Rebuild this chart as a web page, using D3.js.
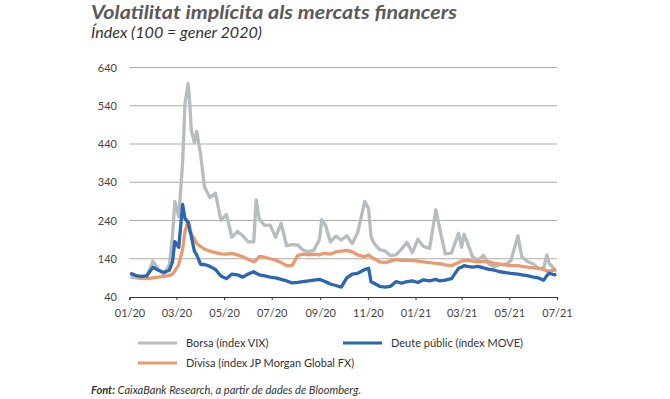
<!DOCTYPE html>
<html>
<head>
<meta charset="utf-8">
<script src="https://cdn.jsdelivr.net/npm/d3@7"></script>
<style>
  body { margin: 0; background: #fff; }
  svg { font-family: Lato, "Open Sans", sans-serif; }
</style>
</head>
<body>
<div id="chart"></div>
<script>
// dates of the observations
var dates = [
  "2020-01-02","2020-01-09","2020-01-16","2020-01-23","2020-01-31","2020-02-07","2020-02-14","2020-02-21","2020-02-25","2020-02-28",
  "2020-03-04","2020-03-09","2020-03-12","2020-03-16","2020-03-18","2020-03-20","2020-03-24","2020-03-27","2020-04-01","2020-04-06",
  "2020-04-13","2020-04-20","2020-04-27","2020-05-04","2020-05-11","2020-05-18","2020-05-25","2020-06-01","2020-06-08","2020-06-11",
  "2020-06-15","2020-06-22","2020-06-29","2020-07-06","2020-07-13","2020-07-20","2020-07-27","2020-08-03","2020-08-10","2020-08-17",
  "2020-08-24","2020-08-31","2020-09-03","2020-09-08","2020-09-14","2020-09-21","2020-09-28","2020-10-05","2020-10-12","2020-10-19",
  "2020-10-28","2020-11-02","2020-11-05","2020-11-09","2020-11-16","2020-11-23","2020-11-30","2020-12-07","2020-12-14","2020-12-21",
  "2020-12-28","2021-01-04","2021-01-11","2021-01-19","2021-01-27","2021-02-01","2021-02-08","2021-02-16","2021-02-25","2021-03-01",
  "2021-03-04","2021-03-08","2021-03-15","2021-03-22","2021-03-29","2021-04-05","2021-04-12","2021-04-19","2021-04-26","2021-05-03",
  "2021-05-12","2021-05-17","2021-05-24","2021-06-01","2021-06-07","2021-06-14","2021-06-18","2021-06-21","2021-06-28","2021-06-30"
];

// Borsa (VIX)
var borsa = [
  92, 90, 88, 94, 134, 112, 99, 124, 198, 290,
  250, 393, 545, 598, 550, 477, 444, 473, 412, 327,
  300, 311, 240, 256, 196, 211, 200, 184, 184, 294,
  244, 227, 228, 196, 233, 174, 177, 176, 163, 158,
  163, 190, 242, 227, 184, 199, 189, 200, 180, 209,
  290, 270, 198, 180, 164, 160, 148, 150, 165, 183,
  156, 191, 172, 167, 268, 218, 153, 155, 207, 170,
  204, 184, 145, 136, 149, 126, 119, 125, 125, 135,
  200, 145, 133, 126, 115, 116, 150, 128, 112, 113
];

// Deute public (MOVE)
var deute = [
  102, 96, 94, 95, 118, 110, 104, 110, 132, 185,
  170, 282, 245, 235, 215, 200, 160, 150, 125, 125,
  120, 112, 95, 88, 100, 98, 92, 100, 106, 102,
  98, 95, 92, 90, 86, 82, 77, 78, 80, 82,
  84, 86, 84, 80, 74, 70, 66, 90, 100, 102,
  112, 115, 80, 76, 68, 66, 68, 80, 76, 80,
  82, 78, 85, 82, 86, 82, 84, 88, 115, 118,
  122, 120, 118, 120, 116, 112, 110, 106, 104, 102,
  100, 98, 96, 92, 90, 84, 96, 102, 98, 100
];

// Divisa (JP Morgan Global FX)
var divisa = [
  102, 96, 90, 88, 90, 92, 94, 96, 100, 108,
  125, 165, 212, 238, 225, 205, 192, 180, 172, 165,
  160, 156, 153, 152, 154, 150, 145, 138, 132, 136,
  146, 144, 140, 136, 130, 122, 122, 148, 152, 150,
  152, 150, 153, 154, 152, 158, 160, 162, 158, 150,
  145, 150, 145, 140, 132, 130, 134, 138, 136, 136,
  135, 134, 132, 130, 128, 127, 124, 122, 130, 134,
  135, 136, 134, 132, 133, 132, 128, 126, 124, 122,
  122, 120, 118, 116, 115, 112, 108, 108, 110, 111
];

var yTicks = [40, 140, 240, 340, 440, 540, 640];
var xTicks = ["2020-01-01","2020-03-01","2020-05-01","2020-07-01","2020-09-01","2020-11-01",
              "2021-01-01","2021-03-01","2021-05-01","2021-07-01"];

var series = [
  {name: "Borsa (índex VIX)", values: borsa, color: "#b6bdc1"},
  {name: "Divisa (índex JP Morgan Global FX)", values: divisa, color: "#e99a6e"},
  {name: "Deute públic (índex MOVE)", values: deute, color: "#2b66b1"}
];

var W = 670, H = 399;
var parse = d3.timeParse("%Y-%m-%d");
var dts = dates.map(parse);

var svg = d3.select("#chart").append("svg")
  .attr("width", W).attr("height", H);

var x = d3.scaleTime()
  .domain([parse("2020-01-01"), parse("2021-07-01")])
  .range([129.5, 557]);
var y = d3.scaleLinear().domain([40, 640]).range([297, 67.5]);

// titles
svg.append("text").attr("x", 91).attr("y", 19)
  .attr("font-size", 19).attr("font-weight", "bold").attr("font-style", "italic")
  .attr("textLength", 366).attr("lengthAdjust", "spacingAndGlyphs")
  .attr("fill", "#5a5a5a").text("Volatilitat implícita als mercats financers");
svg.append("text").attr("x", 91).attr("y", 38)
  .attr("font-size", 15).attr("font-style", "italic")
  .attr("textLength", 171).attr("lengthAdjust", "spacingAndGlyphs")
  .attr("fill", "#333").text("Índex (100 = gener 2020)");

// grid
svg.append("g").selectAll("line")
  .data(yTicks.slice(1)).enter().append("line")
  .attr("x1", x.range()[0]).attr("x2", x.range()[1])
  .attr("y1", function(d) { return y(d); }).attr("y2", function(d) { return y(d); })
  .attr("stroke", "#ababab").attr("stroke-width", 1);

// y labels
svg.append("g").selectAll("text")
  .data(yTicks).enter().append("text")
  .attr("x", 117).attr("y", function(d) { return y(d) + 4; })
  .attr("text-anchor", "end").attr("font-size", 11).attr("fill", "#444")
  .text(function(d) { return d; });

// x axis
var xAxis = d3.axisBottom(x)
  .tickValues(xTicks.map(parse))
  .tickFormat(d3.timeFormat("%m/%y"))
  .tickSize(3).tickPadding(9);
var gx = svg.append("g").attr("transform", "translate(0," + y(40) + ")").call(xAxis);
gx.select(".domain").attr("stroke", "#333").attr("stroke-width", 1.2);
gx.selectAll(".tick line").attr("stroke", "#333");
gx.selectAll(".tick text").attr("font-size", 11).attr("fill", "#444")
  .attr("font-family", "Lato, sans-serif");

// lines
var line = d3.line()
  .x(function(d, i) { return x(dts[i]); })
  .y(function(d) { return y(d); });

svg.append("g").selectAll("path")
  .data(series).enter().append("path")
  .attr("d", function(s) { return line(s.values); })
  .attr("fill", "none")
  .attr("stroke", function(s) { return s.color; })
  .attr("stroke-width", 3.3)
  .attr("stroke-linejoin", "round");

// legend
var legendPos = [
  {s: series[0], x: 138, y: 343},
  {s: series[2], x: 343, y: 343},
  {s: series[1], x: 138, y: 363}
];
var lg = svg.append("g").selectAll("g").data(legendPos).enter().append("g");
lg.append("line")
  .attr("x1", function(d) { return d.x; }).attr("x2", function(d) { return d.x + 39; })
  .attr("y1", function(d) { return d.y; }).attr("y2", function(d) { return d.y; })
  .attr("stroke", function(d) { return d.s.color; }).attr("stroke-width", 3);
lg.append("text")
  .attr("x", function(d) { return d.x + 48; }).attr("y", function(d) { return d.y + 4; })
  .attr("font-size", 11).attr("fill", "#333")
  .text(function(d) { return d.s.name; });

// source
var src = svg.append("text").attr("x", 91).attr("y", 394)
  .attr("font-size", 10.5).attr("font-style", "italic").attr("fill", "#333")
  .attr("textLength", 270).attr("lengthAdjust", "spacingAndGlyphs");
src.append("tspan").attr("font-weight", "bold").text("Font:");
src.append("tspan").text(" CaixaBank Research, a partir de dades de Bloomberg.");
</script>
</body>
</html>
